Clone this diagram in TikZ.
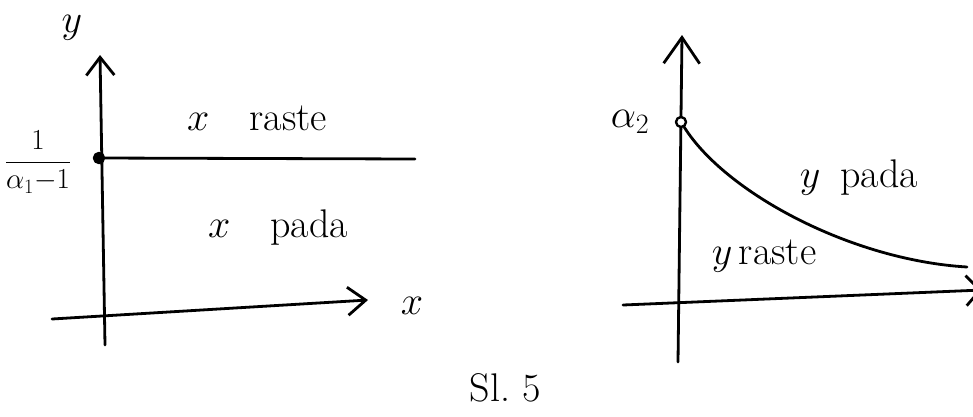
\RequirePackage{fix-cm}
\documentclass[tikz,border=0pt]{standalone}
\usetikzlibrary{arrows.meta}

\begin{document}
\begin{tikzpicture}[
    x=1pt, y=-1pt, % picture units follow the sketch
    line width=2.8pt, line cap=round, line join=round,
    axis/.style={-{Straight Barb[length=18pt,width=28pt]}}, % hand drawn axes
    labelstyle/.style={font=\fontsize{40}{44}\selectfont}, % Style for labels
    fracstyle/.style={font=\fontsize{29}{32}\selectfont},
    dot/.style={circle, draw, line width=2.4pt, inner sep=0pt, minimum size=10pt, fill=white}
]
    \useasboundingbox (0,0) rectangle (973,416);

    % --- Left graph ---
    \coordinate (Ltop) at (100,55);
    \coordinate (Lbot) at (105,345);
    \coordinate (Lleft) at (52,319);
    \coordinate (Lright) at (368,300);
    \coordinate (Lend) at (415,159);

    % Axes
    \draw[axis] (Lbot) -- (Ltop);
    \draw[axis] (Lleft) -- (Lright);
    \node[labelstyle] (ylab) at (72,28) {$y$};
    \node[labelstyle] (xlab) at (412,306) {$x$};

    % Level line and its point on the y axis
    \node[dot, fill=black] (P1) at (99,158) {};
    \draw (P1) -- (Lend);
    \node[fracstyle, inner sep=1pt] (flab) at (38,162) {$\displaystyle\frac{1}{\alpha_1{-}1}$};

    % Regions
    \node[labelstyle] (xup) at (257,118) {$x$\quad raste};
    \node[labelstyle] (xdown) at (278,228) {$x$\quad pada};

    % --- Right graph ---
    \coordinate (Rtop) at (682,35);
    \coordinate (Rbot) at (678,362);
    \coordinate (Rleft) at (623,305);
    \coordinate (Rright) at (982,290);
    \coordinate (Cend) at (967,267);

    % Axes
    \draw[-{Straight Barb[length=26pt,width=36pt]}] (Rbot) -- (Rtop);
    \draw[-{Straight Barb[length=14pt,width=30pt]}] (Rleft) -- (Rright);

    % Decreasing curve from the point on the y axis
    \node[dot] (P2) at (681,122) {};
    \draw (P2) .. controls (725,192) and (850,260) .. (Cend);
    \node[labelstyle] (alab) at (630,122) {$\alpha_2$};

    % Regions
    \node[labelstyle] (yup) at (859,178) {$y$\enspace pada};
    \node[labelstyle] (ydown) at (764,256) {$y$\,raste};

    % Caption
    \node[labelstyle] (cap) at (505,388) {Sl.\ 5};

\end{tikzpicture}
\end{document}
